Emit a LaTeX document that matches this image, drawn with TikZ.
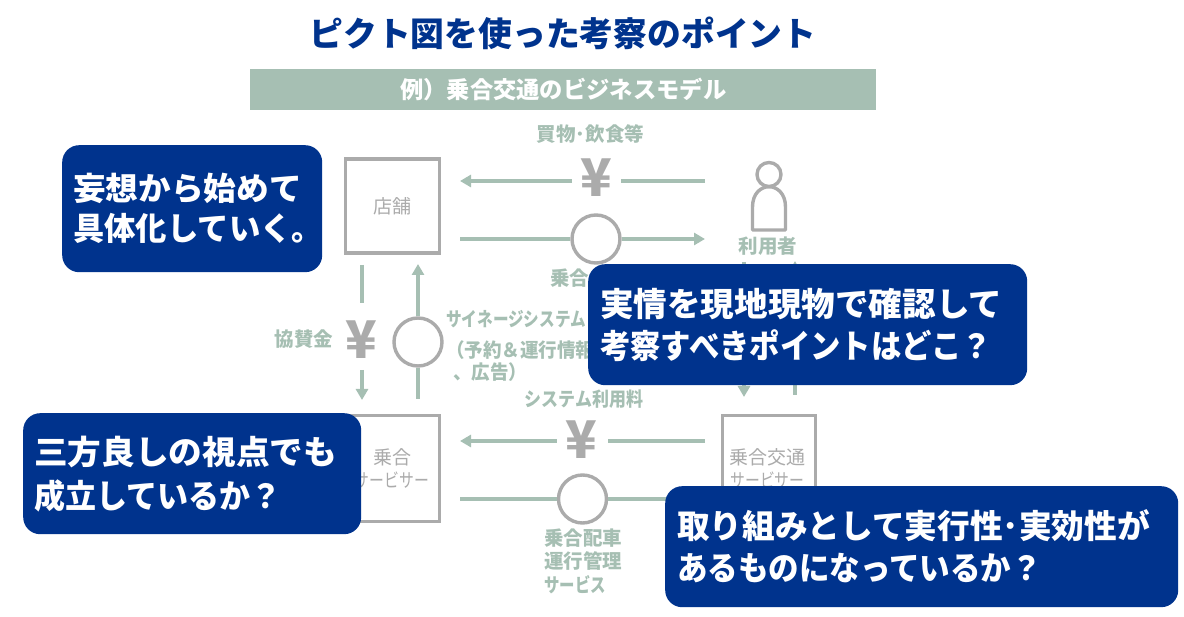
\documentclass[tikz,border=0pt]{standalone}
\usepackage{fontspec}
\usetikzlibrary{arrows.meta,calc}
\setmainfont{Noto Sans CJK JP}
\definecolor{navy}{HTML}{00338D}
\definecolor{sage}{HTML}{A6BFB3}
\definecolor{greyline}{HTML}{ABABAB}
\newcommand{\fs}[1]{\fontsize{#1}{#1}\selectfont}
\newcommand{\fl}[2]{\fontsize{#1}{#2}\selectfont}
\newcommand{\sx}[2]{\scalebox{#1}[1]{#2}}
\tikzset{
  callout/.style={fill=navy,rounded corners=17pt,text=white,anchor=north west,align=left,inner sep=0pt},
  boxnode/.style={draw=greyline,line width=3.4pt,fill=white,anchor=north west,inner sep=0pt},
  boxtext/.style={text=greyline,inner sep=0pt,font=\fs{19}},
  ringnode/.style={circle,draw=greyline,line width=3.4pt,fill=white,minimum size=48pt,inner sep=0pt},
  yennode/.style={text=greyline,font=\fs{52}\bfseries,inner sep=0pt},
  lab/.style={text=sage,font=\fs{19.5}\bfseries,inner sep=0pt},
  flow/.style={draw=sage,line width=3.4pt},
  flowa/.style={flow,-{Triangle[length=11pt,width=12pt]}},
}
\begin{document}
\begin{tikzpicture}[x=1pt,y=-1pt]
\useasboundingbox (0,0) rectangle (1184,617);
% title
\node[text=navy,font=\fs{33.8}\bfseries,inner sep=0pt] (title) at (563,33) {ピクト図を使った考察のポイント};
% banner
\node[fill=sage,text=white,font=\fs{23.3}\bfseries,minimum width=626pt,minimum height=41pt,inner sep=0pt,anchor=north west] (banner) at (250,69) {例）乗合交通のビジネスモデル};
% boxes
\node[boxnode,minimum width=94pt,minimum height=94pt] (shop) at (344,157.5) {};
\node[boxnode,minimum width=94pt,minimum height=106pt] (plat) at (344,414) {};
\node[boxnode,minimum width=93pt,minimum height=106pt] (oper) at (720.5,414) {};
\node[boxtext] (shopt) at (392,206) {店舗};
\node[boxtext] (platt1) at (392,457) {乗合};
\node[boxtext] (platt2) at (392,480) {\sx{.78}{サービサー}};
\node[boxtext] (opert1) at (767.5,457) {乗合交通};
\node[boxtext] (opert2) at (767.5,480) {\sx{.78}{サービサー}};
% rings and yen
\node[ringnode] (r1) at (596,239) {};
\node[ringnode] (r2) at (418,342) {};
\node[ringnode] (r3) at (582.5,499) {};
\node[yennode] (y1) at (596,178) {¥};
\node[yennode] (y2) at (361,340) {¥};
\node[yennode] (y3) at (581.5,440) {¥};
% person
\node[circle,draw=greyline,line width=3.4pt,minimum size=24pt,inner sep=0pt] (head) at (769,174.5) {};
\draw[draw=greyline,line width=3.4pt,line join=round] (752.5,230) -- (752.5,207) .. controls (752.5,180) and (785.5,180) .. (785.5,207) -- (785.5,230) -- cycle;
% free ends
\coordinate (a1) at (705,181); \coordinate (a2) at (460,181);
\coordinate (b1) at (460,239); \coordinate (b2) at (705,239);
\coordinate (c1) at (362,265); \coordinate (c2) at (362,303);
\coordinate (c3) at (362,370); \coordinate (c4) at (362,400);
\coordinate (d1) at (418,399); \coordinate (d2) at (418,264);
\coordinate (e1) at (705,441); \coordinate (e2) at (460,441);
\coordinate (f1) at (460,499); \coordinate (f2) at (705,499);
\coordinate (g1) at (744,262); \coordinate (g2) at (744,397);
\coordinate (h1) at (795,395); \coordinate (h2) at (795,261);
% connectors
\draw[flowa] (572,181) -- (a2);
\draw[flow] (a1) -- (621,181);
\draw[flow] (b1) -- (r1.west);
\draw[flowa] (r1.east) -- (b2);
\draw[flow] (c1) -- (c2);
\draw[flowa] (c3) -- (c4);
\draw[flow] (d1) -- (r2.south);
\draw[flowa] (r2.north) -- (d2);
\draw[flow] (e1) -- (607.5,441);
\draw[flowa] (556.5,441) -- (e2);
\draw[flow] (f1) -- (r3.west);
\draw[flowa] (r3.east) -- (f2);
\draw[flowa] (g1) -- (g2);
\draw[flowa] (h1) -- (h2);
% labels
\node[lab] (l1) at (590.5,134) {買物･飲食等};
\node[lab] (l2) at (768,246) {利用者};
\node[lab,anchor=west] (l3) at (550,278) {乗合};
\node[lab] (l4) at (304,339) {協賛金};
\node[lab,anchor=west] (l5) at (446,319) {\sx{.80}{サイネージシステム}};
\node[lab,anchor=west] (l6) at (446,350) {\sx{.95}{（予約＆運行情報}};
\node[lab,anchor=west] (l7) at (453,372) {\sx{.95}{、広告）}};
\node[lab] (l8) at (584,399) {\sx{.87}{システム利用料}};
\node[lab,anchor=west] (l9) at (544,538) {乗合配車};
\node[lab,anchor=west] (l10) at (544,561) {運行管理};
\node[lab,anchor=west] (l11) at (544,585) {\sx{.79}{サービス}};
% callouts
\node[callout,minimum width=260pt,minimum height=127pt,text width=238pt,font=\fl{32}{40}\bfseries] (k1) at (62,145) {\sx{1.02}{妄想から始めて}\\\sx{.98}{具体化していく。}};
\node[callout,minimum width=439pt,minimum height=121pt,text width=415pt,font=\fl{33}{42}\bfseries] (k2) at (588,264) {\sx{1.018}{実情を現地現物で確認して}\\\sx{.92}{考察すべきポイントはどこ？}};
\node[callout,minimum width=338pt,minimum height=121pt,text width=316pt,font=\fl{33}{44}\bfseries] (k3) at (23,413) {\sx{1.02}{三方良しの視点でも}\\\sx{.94}{成立しているか？}};
\node[callout,minimum width=513pt,minimum height=121pt,text width=489pt,font=\fl{33}{42}\bfseries] (k4) at (665,486) {\sx{.99}{取り組みとして実行性･実効性が}\\\sx{.925}{あるものになっているか？}};
\end{tikzpicture}
\end{document}
